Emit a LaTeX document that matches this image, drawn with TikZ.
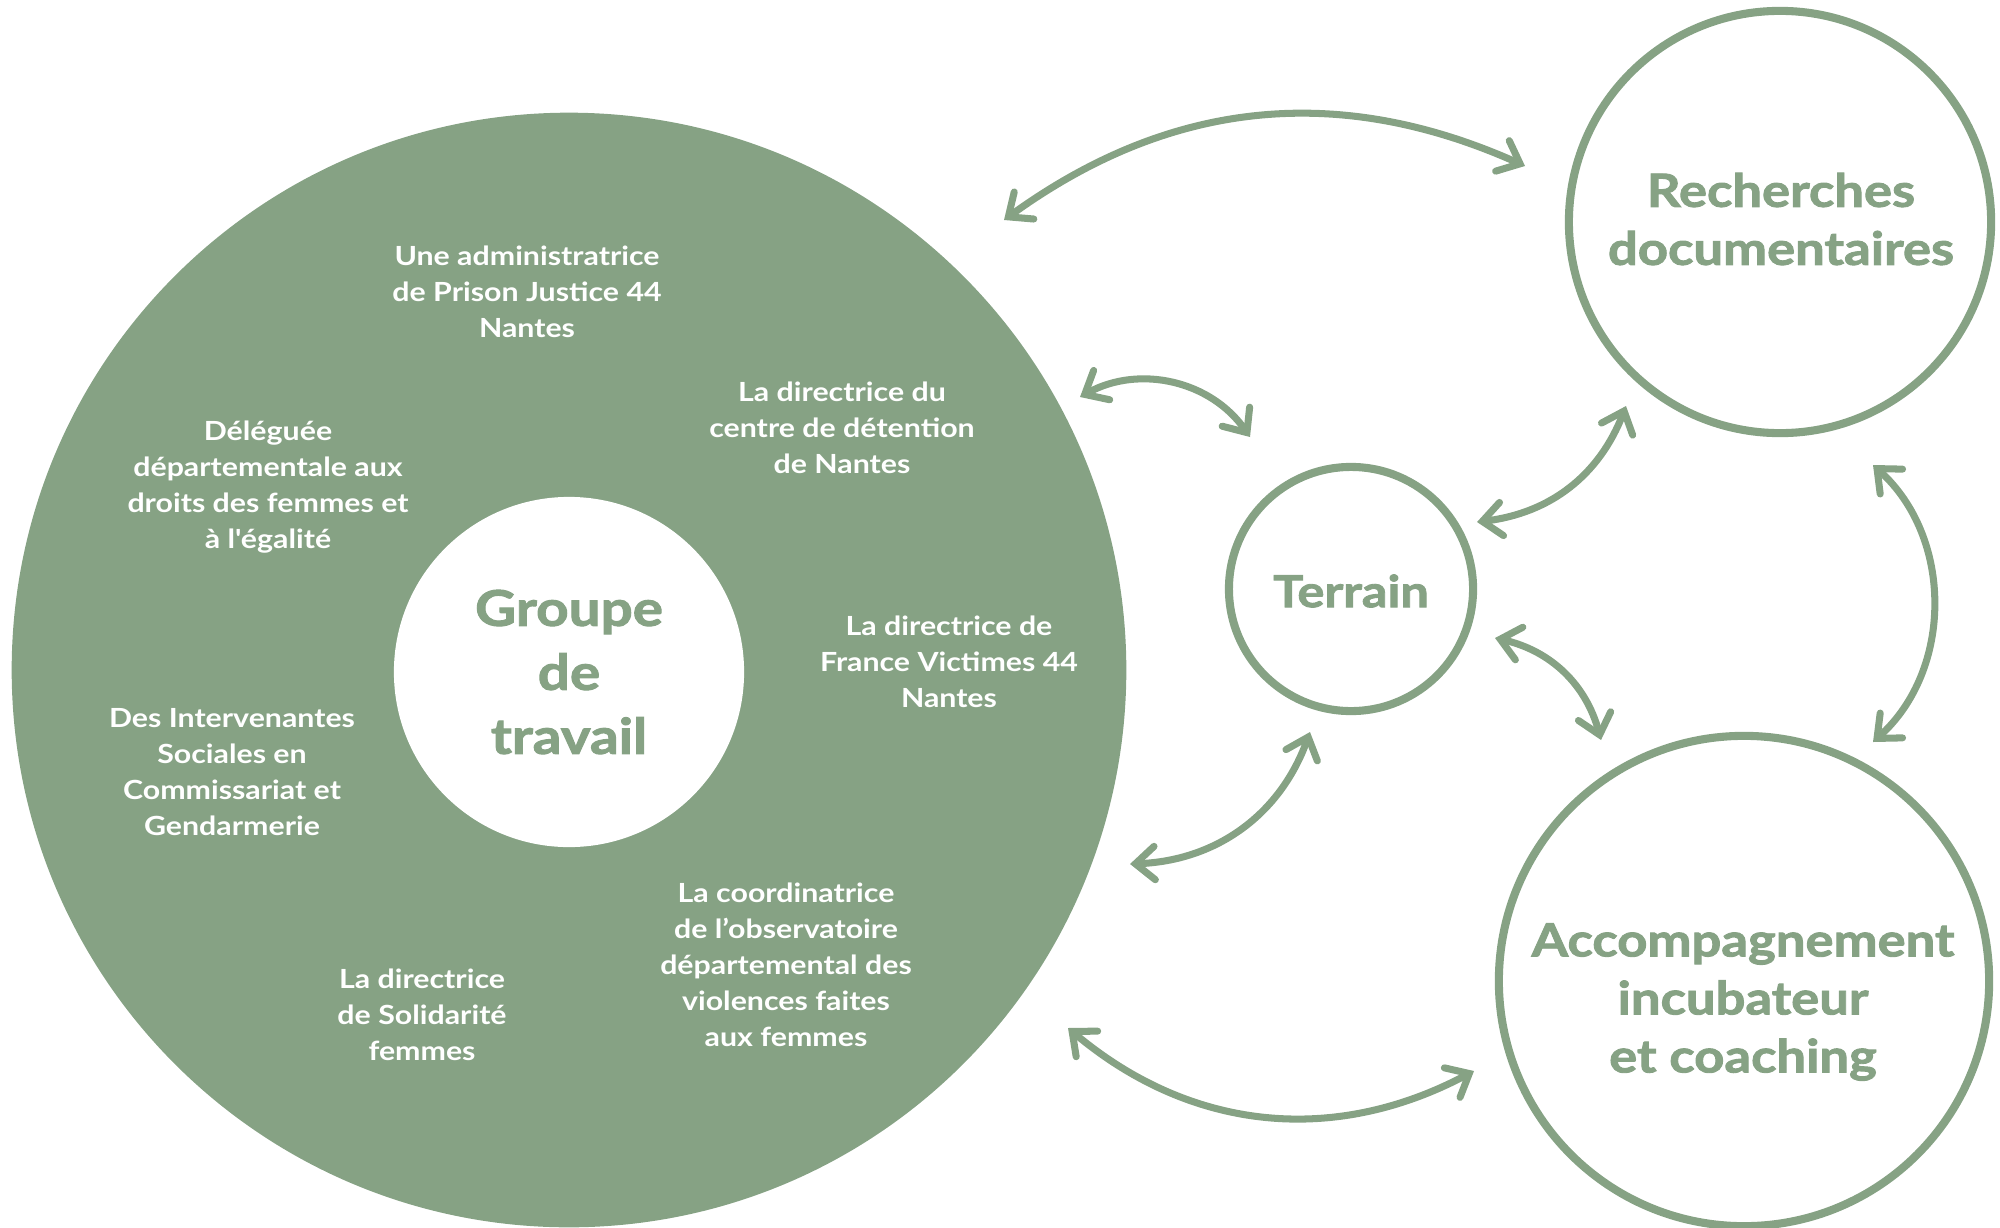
\documentclass[tikz,border=0pt]{standalone}
\usepackage{fontspec}
\setmainfont{Lato}[FakeStretch=1.15]
\newfontfamily\lblfamily{Lato}[FakeStretch=1.15]
\newfontfamily\ttlfamily{Lato}[FakeStretch=1.15, BoldFeatures={FakeBold=2}]
\usetikzlibrary{arrows.meta}
\definecolor{gr}{RGB}{134,162,132}
\tikzset{
  lbl/.style={text=white, align=center, inner sep=0pt, font=\lblfamily\bfseries\fontsize{7.5}{10.2}\selectfont},
  ttl/.style={text=gr, align=center, inner sep=0pt, font=\ttlfamily\bfseries\fontsize{13}{16.5}\selectfont},
  ring/.style={circle, draw=gr, line width=2.3pt, inner sep=0pt},
  tip/.tip={Straight Barb[length=5.5pt,width=9.5pt,line cap=round,line join=miter]},
  link/.style={draw=gr, line width=2pt, line cap=round, tip-tip}
}
\begin{document}
\begin{tikzpicture}[x=0.01cm,y=0.01cm]
\useasboundingbox (0,0) rectangle (2000,-1227);
\clip (0,0) rectangle (2000,-1227);
% big circle
\node[circle, fill=gr, inner sep=0pt, minimum size=11.14cm] (gt) at (569,-670) {};
\node[circle, fill=white, inner sep=0pt, minimum size=3.5cm, ttl, font=\ttlfamily\bfseries\fontsize{14}{18.2}\selectfont] (gtc) at (569,-672) {Groupe\\de\\travail};
% labels
\node[lbl] (l1) at (527,-292) {Une administratrice\\de Prison Justice 44\\Nantes};
\node[lbl] (l2) at (842,-428) {La directrice du\\centre de détention\\de Nantes};
\node[lbl] (l3) at (268,-487) {Déléguée\\départementale aux\\droits des femmes et\\à l'égalité};
\node[lbl] (l4) at (949,-662) {La directrice de\\France Victimes 44\\Nantes};
\node[lbl] (l5) at (232,-772) {Des Intervenantes\\Sociales en\\Commissariat et\\Gendarmerie};
\node[lbl] (l6) at (786,-965) {La coordinatrice\\de l’observatoire\\départemental des\\violences faites\\aux femmes};
\node[lbl] (l7) at (422,-1015) {La directrice\\de Solidarité\\femmes};
% rings
\node[ring, minimum size=2.44cm] (ter) at (1351,-589) {};
\node[ttl, font=\ttlfamily\bfseries\fontsize{12.5}{15}\selectfont] (tert) at (1351,-591) {Terrain};
\node[ring, minimum size=4.22cm] (rec) at (1780,-222) {};
\node[ttl] (rect) at (1781,-219) {Recherches\\documentaires};
\node[ring, minimum size=4.9cm] (acc) at (1744,-981) {};
\node[ttl] (acct) at (1743,-1002) {Accompagnement\\incubateur\\et coaching};
% connector ends
\coordinate (a1s) at (1004,-220); \coordinate (a1e) at (1525,-166);
\coordinate (a2s) at (1080,-397); \coordinate (a2e) at (1250,-437);
\coordinate (a3s) at (1477,-522); \coordinate (a3e) at (1626,-406);
\coordinate (a4s) at (1130,-864); \coordinate (a4e) at (1310,-732);
\coordinate (a5s) at (1495,-638); \coordinate (a5e) at (1601,-740);
\coordinate (a6s) at (1873,-465); \coordinate (a6e) at (1873,-742);
\coordinate (a7s) at (1068,-1028); \coordinate (a7e) at (1474,-1071);
\draw[link] (a1s) to[bend left=30] (a1e);
\draw[link] (a2s) to[bend left=42] (a2e);
\draw[link] (a3s) to[bend right=31] (a3e);
\draw[link] (a4s) to[bend right=34] (a4e);
\draw[link] (a5s) to[bend left=31] (a5e);
\draw[link] (a6s) to[bend left=48] (a6e);
\draw[link] (a7s) to[bend right=34] (a7e);
\end{tikzpicture}
\end{document}
